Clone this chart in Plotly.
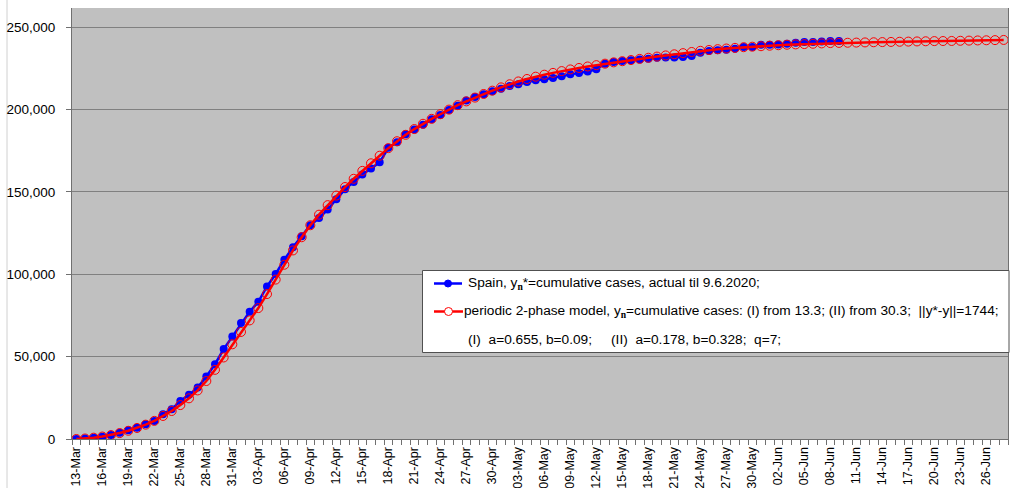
import pandas as pd
import plotly.graph_objects as go

# Day-by-day categories: 13 Mar 2020 .. 28 Jun 2020
dates = pd.date_range("2020-03-13", periods=108, freq="D")
tick_dates = dates[::3]

# Spain, cumulative confirmed cases (actual, up to 9 Jun 2020)
spain_actual = [
    0, 300, 700, 1400, 2400, 3800, 5300, 6900, 8900, 11000,
    15000, 18000, 23100, 26800, 31200, 37900, 45400, 54600, 62200, 70400,
    77300, 83300, 92600, 100200, 108900, 116500, 123100, 129800, 134200, 139300,
    145600, 151600, 156100, 160600, 164200, 168000, 176800, 180200, 185100, 188000,
    190800, 194200, 196700, 199800, 202400, 205600, 207600, 209300, 211100, 212700,
    214300, 215400, 216800, 217800, 218400, 219200, 220200, 221400, 222200, 223200,
    224500, 227900, 228900, 229500, 229900, 230500, 230900, 231500, 231700, 231600,
    232000, 232500, 234600, 235600, 236000, 236400, 237000, 238000, 238000, 239400,
    239400, 239600, 240000, 240600, 241000, 241000, 241400, 241600, 241700,
]

# Periodic 2-phase model, cumulative cases (13 Mar .. 28 Jun)
model = [
    0, 300, 800, 1500, 2400, 3600, 5000, 6700, 8700, 11000,
    14000, 17000, 20600, 24700, 29500, 35200, 42000, 49500, 57500, 65000,
    72000, 79500, 88000, 96800, 105800, 114500, 122500, 129800, 136200, 142000,
    147800, 153000, 158000, 162800, 167400, 172000, 176600, 180800, 184700, 188200,
    191400, 194400, 197200, 200000, 202700, 205000, 207300, 209500, 211500, 213500,
    215400, 217100, 218600, 220000, 221200, 222300, 223400, 224400, 225300, 226200,
    227000, 227900, 228700, 229400, 230100, 230800, 231500, 232200, 232900, 233600,
    234300, 235000, 235700, 236200, 236700, 237100, 237500, 237900, 238200, 238500,
    238800, 239100, 239400, 239600, 239800, 240000, 240200, 240400, 240500, 240600,
    240700, 240800, 240900, 241000, 241100, 241200, 241300, 241400, 241500, 241600,
    241650, 241700, 241800, 241900, 242000, 242100, 242200, 242300,
]

y_ticks = [0, 50000, 100000, 150000, 200000, 250000]

SUB_N = "<sub><span style=\"font-family:'Liberation Serif'\"><b>n</b></span></sub>"
legend_spain = "Spain, y" + SUB_N + "*=cumulative cases, actual til 9.6.2020;"
legend_model = "periodic 2-phase model, y" + SUB_N + "=cumulative cases: (I) from 13.3; (II) from 30.3;  ||y*-y||=1744;"
legend_params = "(I)  a=0.655, b=0.09;     (II)  a=0.178, b=0.328;  q=7;"

W, H = 1010, 488
ML, MR, MT, MB = 72, 2, 8, 49
PW, PH = W - ML - MR, H - MT - MB


def px(x):
    return (x - ML) / PW


def py(y):
    return (H - MB - y) / PH


FONT = "Liberation Sans, Arial, sans-serif"

fig = go.Figure()
fig.add_trace(go.Scatter(
    x=dates[:len(spain_actual)], y=spain_actual, mode="lines+markers",
    line=dict(color="#0000FF", width=2.5),
    marker=dict(symbol="circle", size=8, color="#0000FF"),
    showlegend=False,
))
fig.add_trace(go.Scatter(
    x=dates[:len(model)], y=model, mode="lines+markers",
    line=dict(color="#FF0000", width=2.5),
    marker=dict(symbol="circle-open", size=9, color="#FF0000", line=dict(width=1)),
    showlegend=False,
))

shapes = [
    # outer chart frame edge on the left
    dict(type="line", xref="paper", yref="paper", x0=px(7), x1=px(7), y0=py(488), y1=py(0),
         line=dict(color="#D0D0D0", width=1), layer="below"),
    # legend box
    dict(type="rect", xref="paper", yref="paper", x0=px(422.5), x1=px(1009), y0=py(352.5), y1=py(270.5),
         fillcolor="white", line=dict(color="#505050", width=1)),
    dict(type="line", xref="paper", yref="paper", x0=px(434), x1=px(462), y0=py(283.5), y1=py(283.5),
         line=dict(color="#0000FF", width=2.5)),
    dict(type="circle", xref="paper", yref="paper", xsizemode="pixel", ysizemode="pixel",
         xanchor=px(448), yanchor=py(283.5), x0=-3.5, x1=3.5, y0=-3.5, y1=3.5,
         fillcolor="#0000FF", line=dict(color="#0000FF", width=1)),
    dict(type="line", xref="paper", yref="paper", x0=px(434), x1=px(463), y0=py(311.5), y1=py(311.5),
         line=dict(color="#FF0000", width=2.5)),
    dict(type="circle", xref="paper", yref="paper", xsizemode="pixel", ysizemode="pixel",
         xanchor=px(448.5), yanchor=py(311.5), x0=-4, x1=4, y0=-4, y1=4,
         fillcolor="white", line=dict(color="#FF0000", width=1)),
]

annotations = [
    dict(text=legend_spain, x=px(467), y=py(283.5)),
    dict(text=legend_model, x=px(463), y=py(311.5)),
    dict(text=legend_params, x=px(467), y=py(339.5)),
]
for a in annotations:
    a.update(xref="paper", yref="paper", xanchor="left", yanchor="middle", showarrow=False,
             font=dict(family=FONT, size=13.7, color="black"), borderpad=0)

fig.update_layout(
    width=W, height=H,
    margin=dict(l=ML, r=MR, t=MT, b=MB, pad=0),
    paper_bgcolor="white",
    plot_bgcolor="#C0C0C0",
    font=dict(family=FONT, size=13, color="black"),
    shapes=shapes,
    annotations=annotations,
    xaxis=dict(
        type="date",
        range=[dates[0] - pd.Timedelta(hours=12), dates[-1] + pd.Timedelta(hours=12)],
        tickvals=list(tick_dates), tickformat="%d-%b", tickangle=-90,
        ticks="outside", ticklen=2, tickcolor="rgba(0,0,0,0)",
        minor=dict(ticks="outside", ticklen=5, tickcolor="#707070", tickwidth=1,
                   dtick=86400000, tick0=str(dates[0] - pd.Timedelta(hours=12)), showgrid=False),
        showgrid=False, showline=True, linecolor="#707070", linewidth=1,
        automargin=False, tickfont=dict(size=12.5),
    ),
    yaxis=dict(
        range=[0, 261700], tickvals=y_ticks, tickformat=",",
        ticks="outside", ticklen=5, tickcolor="#707070",
        showgrid=True, gridcolor="#808080", gridwidth=1,
        showline=True, linecolor="#707070", linewidth=1, mirror=True,
        zeroline=False, automargin=False, ticklabelstandoff=8,
        tickfont=dict(size=13.5),
    ),
)

fig.write_html("out.html")
